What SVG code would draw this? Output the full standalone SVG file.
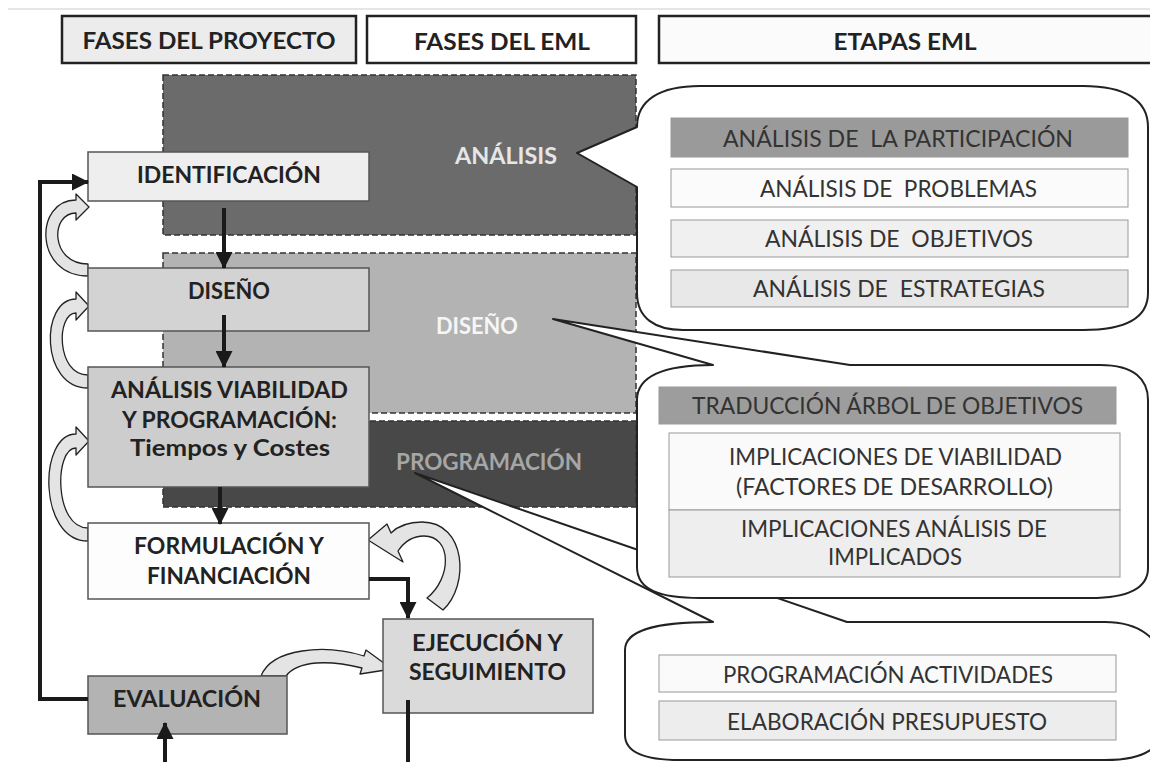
<svg xmlns="http://www.w3.org/2000/svg" width="1150" height="762" viewBox="0 0 1150 762">
<defs>
<style>
text{font-family:Lato,"Liberation Sans",sans-serif;text-anchor:middle}
.hdr{font-weight:700;font-size:23px;fill:#222}
.nd{font-weight:700;font-size:22px;fill:#222}
.rg{font-weight:700;font-size:22px}
.it{font-weight:400;font-size:23px;fill:#333}
.hbox{stroke:#222;stroke-width:2.5}
.region{stroke:#333;stroke-width:1.5;stroke-dasharray:6 3}
.box{stroke:#555;stroke-width:1.5}
.ibox{stroke:#999;stroke-width:1}
.bubble{fill:#fff;stroke:#222;stroke-width:2;stroke-linejoin:round}
.carrow{fill:#e4e4e4;stroke:#222;stroke-width:1.3;stroke-linejoin:round}
.conn{fill:none;stroke:#1a1a1a;stroke-width:4}
</style>
<marker id="ah" markerUnits="userSpaceOnUse" markerWidth="17" markerHeight="17" refX="16" refY="8.5" orient="auto">
<path d="M0,0 L17,8.5 L0,17 Z" fill="#1a1a1a"/>
</marker>
</defs>
<rect width="1150" height="762" fill="#fff"/>
<line x1="8" y1="9" x2="1150" y2="9" stroke="#ddd" stroke-width="1.5"/>

<g id="header-proyecto"><rect class="hbox" x="62" y="16" width="294" height="47" fill="#ececec"/><text class="hdr" x="209" y="49" textLength="253" lengthAdjust="spacingAndGlyphs">FASES DEL PROYECTO</text></g>
<g id="header-eml"><rect class="hbox" x="367" y="16" width="269" height="47" fill="#fff"/><text class="hdr" x="502" y="50" textLength="176" lengthAdjust="spacingAndGlyphs">FASES DEL EML</text></g>
<g id="header-etapas"><rect class="hbox" x="659" y="16" width="495" height="47" fill="#fbfbfb"/><text class="hdr" x="905" y="50" textLength="143" lengthAdjust="spacingAndGlyphs">ETAPAS EML</text></g>

<g id="region-analisis"><rect class="region" x="163" y="75" width="473" height="160" fill="#6b6b6b"/><text class="rg" x="506" y="164" fill="#e6e6e6" textLength="102" lengthAdjust="spacingAndGlyphs">ANÁLISIS</text></g>
<g id="region-diseno"><rect class="region" x="163" y="253" width="473" height="160" fill="#b3b3b3"/><text class="rg" x="477" y="334" fill="#f6f6f6" textLength="82" lengthAdjust="spacingAndGlyphs">DISEÑO</text></g>
<g id="region-programacion"><rect class="region" x="163" y="421" width="473" height="86" fill="#484848"/><text class="rg" x="489" y="470" fill="#a6a6a6" textLength="186" lengthAdjust="spacingAndGlyphs">PROGRAMACIÓN</text></g>

<g id="bubble-programacion">
<path class="bubble" d="M415,473 L847,622 L1105,622 C1140,622 1160,640 1162,660 L1162,730 C1160,750 1140,760 1105,760 L680,760 C645,760 625,752 625,735 L625,650 C625,632 650,622 713,622 Z"/>
<rect class="ibox" x="659" y="655" width="457" height="37" fill="#fafafa"/>
<text class="it" x="888" y="683" textLength="330" lengthAdjust="spacingAndGlyphs">PROGRAMACIÓN ACTIVIDADES</text>
<rect class="ibox" x="659" y="701" width="457" height="39" fill="#ededed"/>
<text class="it" x="887" y="730" textLength="320" lengthAdjust="spacingAndGlyphs">ELABORACIÓN PRESUPUESTO</text>
</g>

<g id="bubble-diseno">
<path class="bubble" d="M553,319 L850,365 L1100,365 C1135,365 1148,380 1148,400 L1148,568 C1148,588 1130,598 1090,598 L700,598 C660,598 637,590 637,567 L637,400 C637,378 660,365 713,365 Z"/>
<rect class="ibox" x="659" y="387" width="457" height="37" fill="#9d9d9d" stroke="#777"/>
<text class="it" x="887.5" y="414" textLength="391" lengthAdjust="spacingAndGlyphs">TRADUCCIÓN ÁRBOL DE OBJETIVOS</text>
<rect class="ibox" x="669" y="433" width="451" height="77" fill="#fafafa"/>
<text class="it" x="895.5" y="465" textLength="333" lengthAdjust="spacingAndGlyphs">IMPLICACIONES DE VIABILIDAD</text>
<text class="it" x="894.5" y="495" textLength="317" lengthAdjust="spacingAndGlyphs">(FACTORES DE DESARROLLO)</text>
<rect class="ibox" x="669" y="510" width="451" height="67" fill="#eeeeee"/>
<text class="it" x="894" y="537" textLength="306" lengthAdjust="spacingAndGlyphs">IMPLICACIONES ANÁLISIS DE</text>
<text class="it" x="895" y="565" textLength="134" lengthAdjust="spacingAndGlyphs">IMPLICADOS</text>
</g>

<g id="bubble-analisis">
<path class="bubble" d="M577,153 L637,127 C637,100 660,86 700,86 L1083,86 C1125,86 1148,100 1148,127 L1148,293 C1148,318 1125,330 1083,330 L683,330 C655,330 637,318 637,293 L637,187 Z"/>
<rect class="ibox" x="671" y="118" width="457" height="39" fill="#9a9a9a" stroke="#777"/>
<text class="it" x="898" y="147" textLength="350" lengthAdjust="spacingAndGlyphs" xml:space="preserve">ANÁLISIS DE  LA PARTICIPACIÓN</text>
<rect class="ibox" x="671" y="169" width="457" height="38" fill="#fbfbfb"/>
<text class="it" x="898.5" y="197" textLength="277" lengthAdjust="spacingAndGlyphs" xml:space="preserve">ANÁLISIS DE  PROBLEMAS</text>
<rect class="ibox" x="671" y="220" width="457" height="37" fill="#f0f0f0"/>
<text class="it" x="899" y="247" textLength="268" lengthAdjust="spacingAndGlyphs" xml:space="preserve">ANÁLISIS DE  OBJETIVOS</text>
<rect class="ibox" x="671" y="270" width="457" height="37" fill="#e8e8e8"/>
<text class="it" x="899" y="297" textLength="292" lengthAdjust="spacingAndGlyphs" xml:space="preserve">ANÁLISIS DE  ESTRATEGIAS</text>
</g>

<g id="feedback-arrows">
<path class="carrow" d="M88,276 C34,276 34,200 76,200 L76,194 L89,207 L76,220 L76,213 C50,213 50,264 88,264 Z"/>
<path class="carrow" d="M88,388 C40,388 40,299 76,299 L76,292 L89,306 L76,320 L76,313 C56,313 56,375 88,375 Z"/>
<path class="carrow" d="M88,541 C38,541 38,434 76,434 L76,427 L89,441 L76,455 L76,448 C54,448 54,528 88,528 Z"/>
<path class="carrow" d="M443,610 C470,585 466,522 422,522 C405,522 396,528 391,533 L387,524 L368,540 L403,562 L398,551 C404,542 412,536 424,536 C452,536 452,578 427,598 Z"/>
<path class="carrow" d="M261,676 C272,648 325,644 364,656 L366,650 L392,669 L360,674 L362,668 C330,660 298,660 286,676 Z"/>
</g>

<g id="node-identificacion"><rect class="box" x="88" y="152" width="281" height="49" fill="#eeeeee"/><text class="nd" x="229" y="183" textLength="184" lengthAdjust="spacingAndGlyphs">IDENTIFICACIÓN</text></g>
<g id="node-diseno"><rect class="box" x="88" y="268" width="281" height="63" fill="#d3d3d3"/><text class="nd" x="229" y="299" textLength="82" lengthAdjust="spacingAndGlyphs">DISEÑO</text></g>
<g id="node-analisis-viabilidad"><rect class="box" x="88" y="367" width="281" height="120" fill="#cdcdcd"/>
<text class="nd" x="229.5" y="398" textLength="237" lengthAdjust="spacingAndGlyphs">ANÁLISIS VIABILIDAD</text>
<text class="nd" x="229.5" y="428" textLength="215" lengthAdjust="spacingAndGlyphs">Y PROGRAMACIÓN:</text>
<text class="nd" x="230" y="456" textLength="200" lengthAdjust="spacingAndGlyphs">Tiempos y Costes</text></g>
<g id="node-formulacion"><rect class="box" x="88" y="523" width="281" height="76" fill="#fdfdfd"/>
<text class="nd" x="229" y="554" textLength="190" lengthAdjust="spacingAndGlyphs">FORMULACIÓN Y</text>
<text class="nd" x="229" y="584" textLength="164" lengthAdjust="spacingAndGlyphs">FINANCIACIÓN</text></g>
<g id="node-ejecucion"><rect class="box" x="383" y="619" width="210" height="94" fill="#dadada"/>
<text class="nd" x="487.5" y="651" textLength="151" lengthAdjust="spacingAndGlyphs">EJECUCIÓN Y</text>
<text class="nd" x="487.5" y="680" textLength="157" lengthAdjust="spacingAndGlyphs">SEGUIMIENTO</text></g>
<g id="node-evaluacion"><rect class="box" x="88" y="676" width="199" height="58" fill="#b3b3b3"/>
<text class="nd" x="187" y="707" textLength="148" lengthAdjust="spacingAndGlyphs">EVALUACIÓN</text></g>

<g id="connectors">
<path class="conn" d="M224,208 L224,268" marker-end="url(#ah)"/>
<path class="conn" d="M224,315 L224,367" marker-end="url(#ah)"/>
<path class="conn" d="M220,487 L220,524" marker-end="url(#ah)"/>
<path class="conn" d="M369,579 L408,579 L408,618" marker-end="url(#ah)"/>
<path class="conn" d="M408,700 L408,766 L165,766 L165,723" marker-end="url(#ah)"/>
<path class="conn" d="M88,699 L40,699 L40,182 L88,182" marker-end="url(#ah)"/>
</g>
</svg>
